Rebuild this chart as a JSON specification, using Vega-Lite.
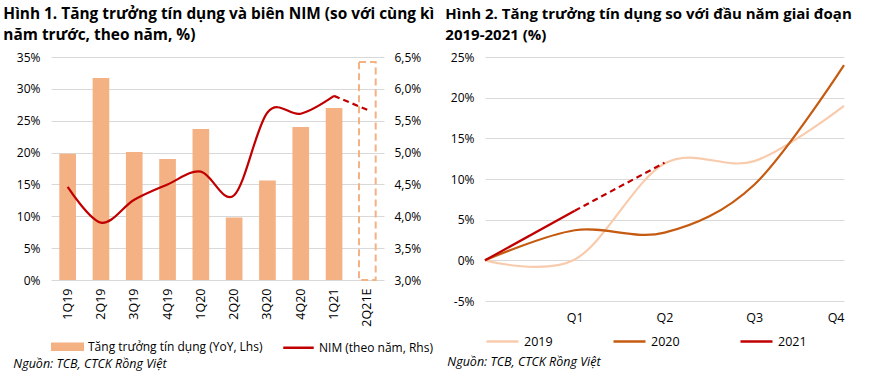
{
  "$schema": "https://vega.github.io/schema/vega-lite/v6.json",
  "background": "white",
  "padding": {"left": 3, "top": 6, "right": 0, "bottom": 0},
  "spacing": 10,
  "resolve": {"scale": {"color": "independent"}, "legend": {"color": "independent"}},
  "config": {
    "view": {"stroke": null},
    "font": "Open Sans",
    "axis": {"labelFont": "Open Sans", "labelFontSize": 12, "labelColor": "#000000", "ticks": false, "domain": false, "gridColor": "#d9d9d9", "gridWidth": 1, "labelOverlap": false},
    "legend": {"labelFont": "Open Sans", "labelFontSize": 12.5, "labelColor": "#000000", "labelLimit": 400},
    "title": {"font": "Open Sans", "color": "#000000"}
  },
  "hconcat": [
    {
      "title": {"text": "Nguồn: TCB, CTCK Rồng Việt", "orient": "bottom", "anchor": "start", "fontStyle": "italic", "fontWeight": "normal", "fontSize": 12.5, "offset": 3, "dx": 10},
      "resolve": {"legend": {"color": "independent"}},
      "vconcat": [
        {
          "width": 333,
          "height": 223,
          "title": {"text": ["Hình 1. Tăng trưởng tín dụng và biên NIM (so với cùng kì", "năm trước, theo năm, %)"], "anchor": "start", "fontSize": 15.4, "fontWeight": "bold", "lineHeight": 21, "offset": 8, "dx": -13},
          "data": {"values": [
            {"q": "1Q19", "kind": "credit", "s": "Tăng trưởng tín dụng (YoY, Lhs)", "v": 19.8},
            {"q": "2Q19", "kind": "credit", "s": "Tăng trưởng tín dụng (YoY, Lhs)", "v": 31.7},
            {"q": "3Q19", "kind": "credit", "s": "Tăng trưởng tín dụng (YoY, Lhs)", "v": 20.1},
            {"q": "4Q19", "kind": "credit", "s": "Tăng trưởng tín dụng (YoY, Lhs)", "v": 19.0},
            {"q": "1Q20", "kind": "credit", "s": "Tăng trưởng tín dụng (YoY, Lhs)", "v": 23.7},
            {"q": "2Q20", "kind": "credit", "s": "Tăng trưởng tín dụng (YoY, Lhs)", "v": 9.8},
            {"q": "3Q20", "kind": "credit", "s": "Tăng trưởng tín dụng (YoY, Lhs)", "v": 15.6},
            {"q": "4Q20", "kind": "credit", "s": "Tăng trưởng tín dụng (YoY, Lhs)", "v": 24.0},
            {"q": "1Q21", "kind": "credit", "s": "Tăng trưởng tín dụng (YoY, Lhs)", "v": 27.0},
            {"q": "2Q21E", "kind": "creditE", "s": "Tăng trưởng tín dụng (YoY, Lhs)", "v": 34.2},
            {"q": "1Q19", "kind": "nim", "s": "NIM (theo năm, Rhs)", "v": 4.46},
            {"q": "2Q19", "kind": "nim", "s": "NIM (theo năm, Rhs)", "v": 3.9},
            {"q": "3Q19", "kind": "nim", "s": "NIM (theo năm, Rhs)", "v": 4.26},
            {"q": "4Q19", "kind": "nim", "s": "NIM (theo năm, Rhs)", "v": 4.5},
            {"q": "1Q20", "kind": "nim", "s": "NIM (theo năm, Rhs)", "v": 4.7},
            {"q": "2Q20", "kind": "nim", "s": "NIM (theo năm, Rhs)", "v": 4.33},
            {"q": "3Q20", "kind": "nim", "s": "NIM (theo năm, Rhs)", "v": 5.63},
            {"q": "4Q20", "kind": "nim", "s": "NIM (theo năm, Rhs)", "v": 5.61},
            {"q": "1Q21", "kind": "nim", "s": "NIM (theo năm, Rhs)", "v": 5.89},
            {"q": "1Q21", "kind": "nimE", "s": "NIM (theo năm, Rhs)", "v": 5.89},
            {"q": "2Q21E", "kind": "nimE", "s": "NIM (theo năm, Rhs)", "v": 5.67}
          ]},
          "encoding": {
            "x": {"field": "q", "type": "nominal", "sort": null, "title": null,
              "scale": {"domain": ["1Q19", "2Q19", "3Q19", "4Q19", "1Q20", "2Q20", "3Q20", "4Q20", "1Q21", "2Q21E"], "paddingInner": 0.5, "paddingOuter": 0.25},
              "axis": {"labelAngle": -90, "labelAlign": "right", "labelBaseline": "middle", "labelPadding": 8, "grid": false, "labelFontSize": 12.5}}
          },
          "layer": [
            {
              "encoding": {
                "y": {"field": "v", "type": "quantitative", "title": null,
                  "scale": {"domain": [0, 35], "nice": false},
                  "axis": {"orient": "left", "values": [0, 5, 10, 15, 20, 25, 30, 35], "labelExpr": "datum.value + '%'", "labelPadding": 11, "grid": true}}
              },
              "layer": [
                {
                  "transform": [{"filter": "datum.kind === 'credit'"}],
                  "mark": {"type": "bar"},
                  "encoding": {
                    "color": {"field": "s", "type": "nominal", "sort": null,
                      "scale": {"domain": ["Tăng trưởng tín dụng (YoY, Lhs)", "NIM (theo năm, Rhs)"], "range": ["#F4B183", "#C00000"]},
                      "legend": {"orient": "bottom", "direction": "horizontal", "title": null, "offset": 3, "symbolSize": 930, "columnPadding": 15, "labelOffset": 4, "labelFontSize": 12,
                        "encode": {"symbols": {"update": {
                          "shape": {"signal": "datum.value === 'NIM (theo năm, Rhs)' ? 'stroke' : 'M-1,-0.2H1V0.2H-1Z'"},
                          "fill": {"signal": "datum.value === 'NIM (theo năm, Rhs)' ? 'transparent' : '#F4B183'"},
                          "stroke": {"signal": "datum.value === 'NIM (theo năm, Rhs)' ? '#C00000' : 'transparent'"},
                          "strokeWidth": {"value": 2.5},
                          "opacity": {"value": 1}
                        }}}}}
                  }
                },
                {
                  "transform": [{"filter": "datum.kind === 'creditE'"}],
                  "mark": {"type": "bar", "filled": false, "stroke": "#F4B183", "strokeWidth": 2, "strokeDash": [7, 4], "fill": null}
                }
              ]
            },
            {
              "encoding": {
                "y": {"field": "v", "type": "quantitative", "title": null,
                  "scale": {"domain": [3, 6.5], "nice": false},
                  "axis": {"orient": "right", "values": [3, 3.5, 4, 4.5, 5, 5.5, 6, 6.5], "labelExpr": "replace(format(datum.value, '.1f'), '.', ',') + '%'", "labelPadding": 10, "grid": false}}
              },
              "layer": [
                {
                  "transform": [{"filter": "datum.kind === 'nim'"}],
                  "mark": {"type": "line", "interpolate": "cardinal", "strokeWidth": 2.2},
                  "encoding": {
                    "color": {"field": "s", "type": "nominal", "sort": null}
                  }
                },
                {
                  "transform": [{"filter": "datum.kind === 'nimE'"}],
                  "mark": {"type": "line", "color": "#C00000", "strokeWidth": 2.2, "strokeDash": [6, 4]}
                }
              ]
            }
          ],
          "resolve": {"scale": {"y": "independent"}}
        }
      ]
    },
    {
      "title": {"text": "Nguồn: TCB, CTCK Rồng Việt", "orient": "bottom", "anchor": "start", "fontStyle": "italic", "fontWeight": "normal", "fontSize": 12.5, "offset": 8, "dx": 2},
      "resolve": {"legend": {"color": "independent"}},
      "vconcat": [
        {
          "width": 359,
          "height": 244,
          "title": {"text": ["Hình 2. Tăng trưởng tín dụng so với đầu năm giai đoạn", "2019-2021 (%)"], "anchor": "start", "fontSize": 15, "fontWeight": "bold", "lineHeight": 21, "offset": 8, "dx": -5},
          "data": {"values": [
            {"x": 0, "year": "2019", "kind": "main", "v": 0},
            {"x": 1, "year": "2019", "kind": "main", "v": 0.1},
            {"x": 2, "year": "2019", "kind": "main", "v": 11.9},
            {"x": 3, "year": "2019", "kind": "main", "v": 12.2},
            {"x": 4, "year": "2019", "kind": "main", "v": 19.0},
            {"x": 0, "year": "2020", "kind": "main", "v": 0},
            {"x": 1, "year": "2020", "kind": "main", "v": 3.7},
            {"x": 2, "year": "2020", "kind": "main", "v": 3.4},
            {"x": 3, "year": "2020", "kind": "main", "v": 9.3},
            {"x": 4, "year": "2020", "kind": "main", "v": 24.0},
            {"x": 0, "year": "2021", "kind": "main", "v": 0},
            {"x": 1, "year": "2021", "kind": "main", "v": 6.1},
            {"x": 1, "year": "2021", "kind": "dash", "v": 6.1},
            {"x": 2, "year": "2021", "kind": "dash", "v": 12.0}
          ]},
          "encoding": {
            "x": {"field": "x", "type": "quantitative", "title": null,
              "scale": {"domain": [0, 4], "nice": false},
              "axis": {"values": [1, 2, 3, 4], "labelExpr": "'Q' + datum.value", "grid": false, "labelPadding": 10, "labelFontSize": 12.5}},
            "y": {"field": "v", "type": "quantitative", "title": null,
              "scale": {"domain": [-5, 25], "nice": false},
              "axis": {"values": [-5, 0, 5, 10, 15, 20, 25], "labelExpr": "datum.value + '%'", "labelPadding": 11, "grid": true}}
          },
          "layer": [
            {
              "transform": [{"filter": "datum.kind === 'main'"}],
              "mark": {"type": "line", "interpolate": "cardinal", "strokeWidth": 2.2},
              "encoding": {
                "color": {"field": "year", "type": "nominal",
                  "scale": {"domain": ["2019", "2020", "2021"], "range": ["#F8CBAD", "#C55A11", "#C00000"]},
                  "legend": {"orient": "bottom", "direction": "horizontal", "title": null, "offset": 0, "symbolType": "stroke", "symbolSize": 1024, "symbolStrokeWidth": 2.5, "columnPadding": 55, "labelOffset": 4}}
              }
            },
            {
              "transform": [{"filter": "datum.kind === 'dash'"}],
              "mark": {"type": "line", "color": "#C00000", "strokeWidth": 2.2, "strokeDash": [6, 4]}
            }
          ]
        }
      ]
    }
  ]
}
